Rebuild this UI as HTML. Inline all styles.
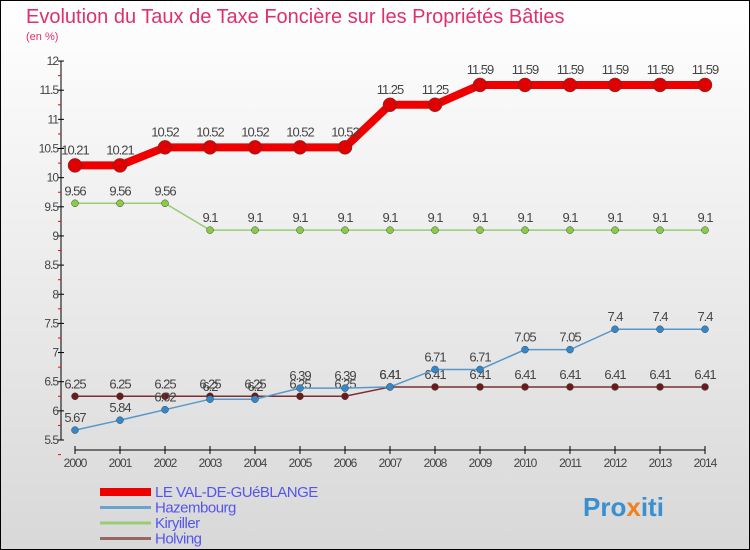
<!DOCTYPE html>
<html><head><meta charset="utf-8"><style>
body{margin:0;}
svg{display:block;font-family:"Liberation Sans",sans-serif;}
</style></head><body>
<svg id="c" width="750" height="550" xmlns="http://www.w3.org/2000/svg">
<defs><linearGradient id="bg" x1="0" y1="0" x2="0" y2="1"><stop offset="0" stop-color="#ffffff"/><stop offset="1" stop-color="#d8d8d8"/></linearGradient></defs>
<rect x="0.5" y="0.5" width="749" height="549" fill="url(#bg)" stroke="#000"/>
<text x="26" y="23" font-size="20" fill="#e0306a">Evolution du Taux de Taxe Foncière sur les Propriétés Bâties</text>
<text x="26" y="40" font-size="11" fill="#e0306a">(en %)</text>
<g id="axes"></g>
<g id="series"></g>
<g id="legend"></g>
<text x="583" y="516" font-size="26" font-weight="bold" fill="#3a8fd0">Pro<tspan fill="#f08020">x</tspan>iti</text>
</svg>
<script>
const years=[2000,2001,2002,2003,2004,2005,2006,2007,2008,2009,2010,2011,2012,2013,2014];
const valDeGue=[10.21,10.21,10.52,10.52,10.52,10.52,10.52,11.25,11.25,11.59,11.59,11.59,11.59,11.59,11.59];
const hazembourg=[5.67,5.84,6.02,6.2,6.2,6.39,6.39,6.41,6.71,6.71,7.05,7.05,7.4,7.4,7.4];
const kiryiller=[9.56,9.56,9.56,9.1,9.1,9.1,9.1,9.1,9.1,9.1,9.1,9.1,9.1,9.1,9.1];
const holving=[6.25,6.25,6.25,6.25,6.25,6.25,6.25,6.41,6.41,6.41,6.41,6.41,6.41,6.41,6.41];
const yTicks=[5.5,6,6.5,7,7.5,8,8.5,9,9.5,10,10.5,11,11.5,12];
const seriesNames=["LE VAL-DE-GUéBLANGE","Hazembourg","Kiryiller","Holving"];
const NS="http://www.w3.org/2000/svg";
const xS=i=>75+i*45;
const yS=v=>440-(v-5.5)*58.3;
function mk(tag,attrs,parent,txt){const e=document.createElementNS(NS,tag);for(const k in attrs)e.setAttribute(k,attrs[k]);if(txt!==undefined)e.textContent=txt;parent.appendChild(e);return e;}
const ax=document.getElementById('axes');
let e=mk('line',{x1:61,y1:yS(12),x2:61,y2:yS(5.5),stroke:'#000'},ax);


e=mk('line',{x1:xS(0),y1:450,x2:xS(14),y2:450,stroke:'#000'},ax);


yTicks.forEach(v=>{
  mk('line',{x1:58,y1:yS(v),x2:64,y2:yS(v),stroke:'#000'},ax);
  mk('line',{x1:58,y1:yS(v)+14.6,x2:61,y2:yS(v)+14.6,stroke:'#f00'},ax);
  const t=mk('text',{x:58,y:yS(v)+4,'font-size':12,'text-anchor':'end',fill:'#444','letter-spacing':'-1'},ax,String(v));
  
  
});
years.forEach((y,i)=>{
  mk('line',{x1:xS(i),y1:446,x2:xS(i),y2:454,stroke:'#000'},ax);
  const t=mk('text',{x:xS(i),y:467,'font-size':12,'text-anchor':'middle',fill:'#444','letter-spacing':'-1'},ax,String(y));
  
  
});
const sg=document.getElementById('series');
const defs=[[valDeGue,'#ee0000',8,7,'#e00000','series-val-de-gueblange'],[kiryiller,'#99cc77',1.5,3.5,'#88cc44','series-kiryiller'],[holving,'#7a3030',1.5,3.5,'#6a1a1a','series-holving'],[hazembourg,'#5599cc',1.5,3.5,'#3388cc','series-hazembourg']];
defs.forEach(([d,c,w,r,pc,name])=>{
  const g=mk('g',{},sg);
  
  
  const p=mk('polyline',{points:d.map((v,i)=>xS(i)+','+yS(v)).join(' '),fill:'none',stroke:c,'stroke-width':w},g);
  
  
  d.forEach((v,i)=>{
    const m=mk('circle',{cx:xS(i),cy:yS(v),r:r,fill:pc,stroke:'#444','stroke-width':0.5},g);
    
    
    const t=mk('text',{x:xS(i),y:yS(v)-(r>5?11:8),'font-size':13,'text-anchor':'middle',fill:'#444','letter-spacing':'-1'},g,String(v));
    
    
  });
});
const lg=document.getElementById('legend');
const lc=['#ee0000','#6aa3cc','#99cc77','#996666'];const lw=[8,3,3,3];
seriesNames.forEach((n,i)=>{
  const yy=491+i*15.5;
  const g=mk('g',{},lg);
  
  
  mk('line',{x1:100,y1:yy+1,x2:151,y2:yy+1,stroke:lc[i],'stroke-width':lw[i]},g);
  mk('text',{x:155,y:yy+6,'font-size':15,fill:'#5555ee','letter-spacing':'-0.5'},g,n);
});
</script>
</body></html>
